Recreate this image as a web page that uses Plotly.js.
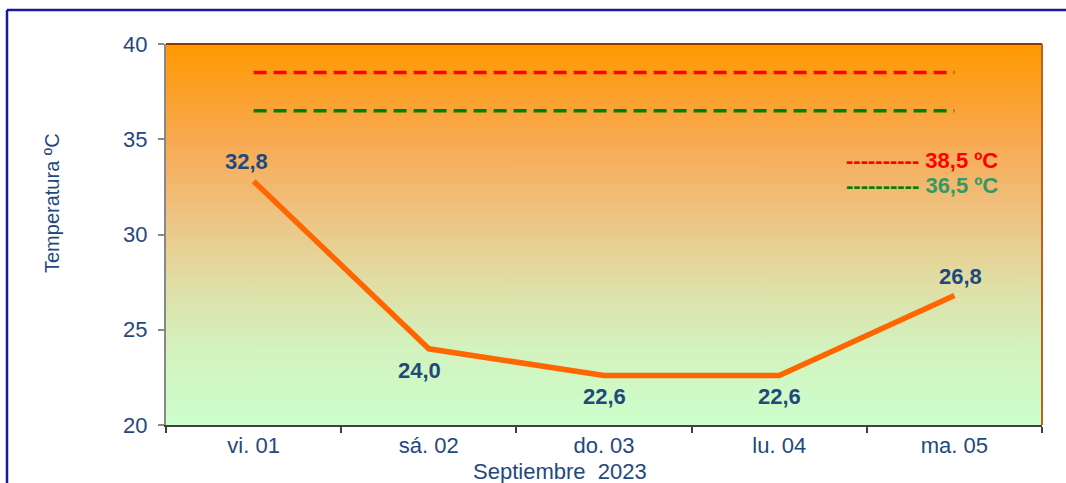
<!DOCTYPE html>
<html>
<head>
<meta charset="utf-8">
<script src="https://cdn.plot.ly/plotly-3.0.1.min.js"></script>
<style>html,body{margin:0;padding:0;background:#fff;}#chart{width:1066px;height:483px;}</style>
</head>
<body>
<div id="chart"></div>
<script>
const categories = ["vi. 01", "sá. 02", "do. 03", "lu. 04", "ma. 05"];
const temperatures = [32.8, 24.0, 22.6, 22.6, 26.8];
const labels = ["32,8", "24,0", "22,6", "22,6", "26,8"];
const thresholdRed = 38.5;
const thresholdGreen = 36.5;
const legendRed = "38,5 ºC";
const legendGreen = "36,5 ºC";
const yTicks = [20, 25, 30, 35, 40];
const xTitle = "Septiembre  2023";
const yTitle = "Temperatura ºC";

const navy = "#1F497D";
const font = "Liberation Sans, Arial, sans-serif";

const grad = '<svg xmlns="http://www.w3.org/2000/svg" width="100" height="100" preserveAspectRatio="none">' +
  '<defs><linearGradient id="g" x1="0" y1="0" x2="0" y2="1">' +
  '<stop offset="0" stop-color="#FF9900"/>' +
  '<stop offset="0.25" stop-color="#F8A850"/>' +
  '<stop offset="0.45" stop-color="#EEC383"/>' +
  '<stop offset="0.62" stop-color="#E0DDA4"/>' +
  '<stop offset="0.8" stop-color="#D3F2BE"/>' +
  '<stop offset="1" stop-color="#CCFFCC"/>' +
  '</linearGradient></defs><rect width="100" height="100" fill="url(#g)"/></svg>';
const gradUri = "data:image/svg+xml;base64," + btoa(grad);

const traces = [
  {
    x: [categories[0], categories[categories.length - 1]],
    y: [thresholdRed, thresholdRed],
    mode: "lines", type: "scatter",
    line: {color: "#FF0000", width: 3.5, dash: "13px,7px"},
    hoverinfo: "skip"
  },
  {
    x: [categories[0], categories[categories.length - 1]],
    y: [thresholdGreen, thresholdGreen],
    mode: "lines", type: "scatter",
    line: {color: "#008000", width: 3.5, dash: "13px,7px"},
    hoverinfo: "skip"
  },
  {
    x: categories,
    y: temperatures,
    mode: "lines", type: "scatter",
    line: {color: "#FF6600", width: 5.5}
  }
];

const labelOffsets = [[-7, 20], [-9, -22], [0, -21], [0, -21], [6, 19]];
const annotations = categories.map((c, i) => ({
  x: c, y: temperatures[i], xref: "x", yref: "y",
  text: "<b>" + labels[i] + "</b>", showarrow: false,
  xshift: labelOffsets[i][0], yshift: labelOffsets[i][1],
  font: {family: font, size: 22, color: navy}
}));

annotations.push({
  xref: "paper", yref: "paper", x: (844 - 166) / 876, y: (425 - 160) / 381,
  xanchor: "left", yanchor: "middle", showarrow: false,
  text: '<b><span style="color:#FF0000">---------- ' + legendRed + '</span></b>',
  font: {family: font, size: 22, color: "#FF0000"}
});
annotations.push({
  xref: "paper", yref: "paper", x: (844 - 166) / 876, y: (425 - 185) / 381,
  xanchor: "left", yanchor: "middle", showarrow: false,
  text: '<b><span style="color:#008000">----------</span> <span style="color:#339966">' + legendGreen + '</span></b>',
  font: {family: font, size: 22, color: "#339966"}
});
annotations.push({
  xref: "paper", yref: "paper", x: (560 - 166) / 876, y: (425 - 471) / 381,
  xanchor: "center", yanchor: "middle", showarrow: false,
  text: xTitle, font: {family: font, size: 22, color: navy}
});
annotations.push({
  xref: "paper", yref: "paper", x: (52 - 166) / 876, y: (425 - 203) / 381,
  xanchor: "center", yanchor: "middle", showarrow: false, textangle: -90,
  text: yTitle, font: {family: font, size: 20, color: navy}
});

const layout = {
  width: 1066, height: 483,
  margin: {l: 166, r: 24, t: 44, b: 58},
  paper_bgcolor: "#FFFFFF",
  plot_bgcolor: "rgba(0,0,0,0)",
  showlegend: false,
  font: {family: font, color: navy},
  xaxis: {
    type: "category", categoryorder: "array", categoryarray: categories,
    range: [-0.5, categories.length - 0.5],
    tickson: "boundaries", ticks: "outside", ticklen: 6, tickcolor: "#404040", tickwidth: 2,
    showline: true, linecolor: "#404040", linewidth: 2,
    showgrid: false, zeroline: false,
    tickfont: {family: font, size: 22, color: navy}
  },
  yaxis: {
    range: [20, 40], tickvals: yTicks, ticktext: yTicks.map(String),
    ticks: "outside", ticklen: 6, tickcolor: "#888888", tickwidth: 2,
    showline: true, linecolor: "#888888", linewidth: 2,
    showgrid: false, zeroline: false,
    ticklabelstandoff: 6,
    tickfont: {family: font, size: 22, color: navy}
  },
  images: [{
    source: gradUri, xref: "paper", yref: "paper", x: 0, y: 1,
    sizex: 1, sizey: 1, sizing: "stretch", layer: "below",
    xanchor: "left", yanchor: "top"
  }],
  shapes: [
    {type: "line", xref: "paper", yref: "paper", x0: 0, x1: 1, y0: 1, y1: 1,
     line: {color: "#993300", width: 2}},
    {type: "line", xref: "paper", yref: "paper", x0: 1, x1: 1, y0: 0, y1: 1,
     line: {color: "#B5651D", width: 2}},
    {type: "line", xref: "paper", yref: "paper",
     x0: (7 - 166) / 876, x1: (1066 - 166) / 876, y0: (425 - 10) / 381, y1: (425 - 10) / 381,
     line: {color: "#1A1A99", width: 2.5}},
    {type: "line", xref: "paper", yref: "paper",
     x0: (7 - 166) / 876, x1: (7 - 166) / 876, y0: (425 - 10) / 381, y1: (425 - 490) / 381,
     line: {color: "#1A1A99", width: 2.5}}
  ],
  annotations: annotations
};

Plotly.newPlot("chart", traces, layout, {displayModeBar: false, staticPlot: true});
</script>
</body>
</html>
